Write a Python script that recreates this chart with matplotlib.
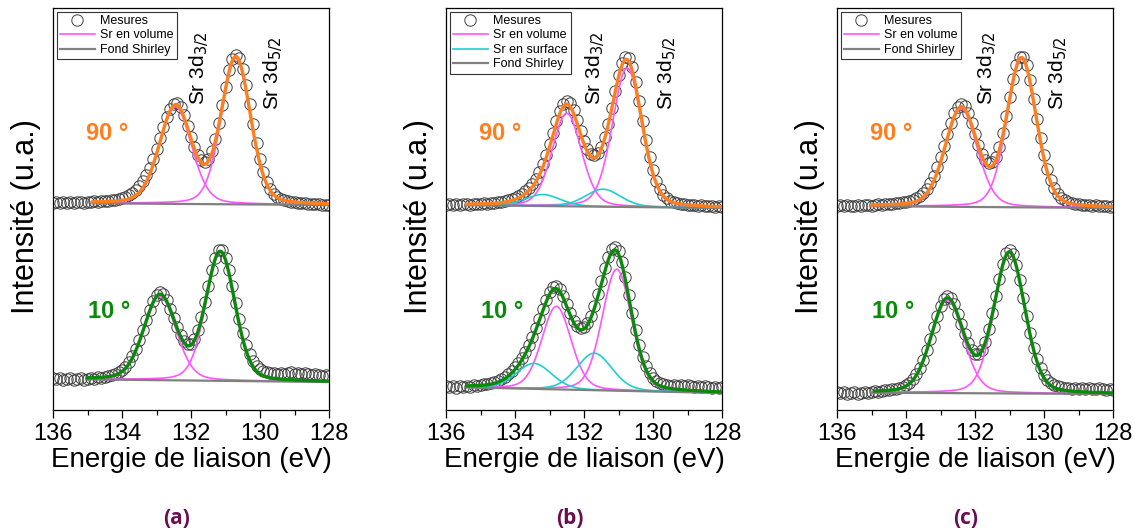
"""Sr 3d XPS spectra at 90 and 10 degrees for three samples, (a) to (c)."""

import matplotlib
matplotlib.use("Agg")
import matplotlib.pyplot as plt
import numpy as np
from matplotlib.lines import Line2D
from matplotlib.ticker import MultipleLocator

plt.rcParams["font.family"] = ["Liberation Sans", "DejaVu Sans"]

# binding energy channels of the measured spectra (eV), 136 -> 128 by 0.1 eV
ENERGY = np.round(np.linspace(136.0, 128.0, 81), 1)

# measured intensities (a.u.), already stacked as in the figure
A_90 = [207, 208, 207, 208, 207, 208, 207, 208, 208, 207,
        208, 208, 209, 208, 209, 209, 209, 210, 210, 211,
        212, 213, 215, 217, 220, 224, 229, 235, 242, 251,
        261, 272, 283, 293, 301, 306, 307, 303, 295, 284,
        273, 263, 255, 250, 248, 251, 259, 271, 287, 305,
        323, 340, 351, 355, 352, 341, 325, 306, 286, 267,
        251, 238, 228, 221, 216, 213, 211, 210, 209, 208,
        208, 207, 207, 207, 206, 206, 206, 206, 205, 205, 205]
A_10 = [32, 31, 32, 30, 31, 32, 30, 31, 32, 30,
        31, 32, 31, 33, 32, 33, 34, 35, 36, 38,
        40, 43, 48, 54, 61, 70, 80, 90, 100, 109,
        115, 118, 116, 110, 101, 92, 83, 75, 69, 66,
        66, 71, 80, 93, 108, 124, 140, 152, 160, 160,
        152, 140, 124, 107, 91, 77, 65, 56, 49, 44,
        41, 39, 38, 37, 37, 36, 37, 36, 37, 38,
        36, 37, 36, 37, 36, 35, 36, 35, 34, 35, 34]
B_90 = [205, 206, 205, 206, 205, 206, 206, 205, 206, 206,
        206, 207, 206, 207, 207, 208, 208, 209, 210, 211,
        212, 214, 216, 219, 222, 226, 231, 238, 246, 255,
        266, 277, 289, 299, 306, 309, 307, 300, 290, 279,
        269, 261, 256, 255, 257, 263, 273, 286, 302, 319,
        335, 347, 353, 352, 343, 328, 309, 289, 270, 253,
        240, 229, 221, 215, 212, 209, 208, 207, 206, 206,
        205, 205, 205, 204, 205, 204, 204, 204, 203, 204, 203]
B_10 = [24, 23, 24, 22, 24, 23, 24, 23, 25, 24,
        25, 26, 26, 27, 28, 29, 31, 33, 36, 39,
        43, 47, 52, 58, 65, 73, 82, 91, 101, 110,
        118, 123, 124, 121, 114, 106, 97, 89, 84, 82,
        83, 87, 94, 104, 116, 129, 142, 153, 161, 163,
        159, 148, 133, 115, 97, 80, 65, 53, 44, 37,
        32, 29, 27, 26, 25, 24, 25, 24, 25, 24,
        25, 24, 23, 24, 23, 24, 23, 22, 23, 22, 23]
C_90 = [204, 205, 204, 205, 204, 204, 205, 204, 205, 205,
        204, 205, 206, 205, 206, 206, 206, 207, 207, 208,
        208, 209, 210, 212, 214, 217, 221, 227, 234, 243,
        253, 264, 276, 287, 297, 303, 306, 304, 297, 287,
        276, 265, 256, 250, 247, 248, 253, 263, 277, 294,
        313, 331, 345, 353, 353, 345, 330, 311, 291, 272,
        255, 241, 230, 222, 216, 212, 210, 208, 207, 206,
        206, 205, 205, 205, 204, 205, 204, 204, 204, 203, 204]
C_10 = [18, 17, 18, 16, 17, 18, 16, 17, 18, 17,
        18, 19, 18, 19, 20, 20, 21, 21, 22, 23,
        25, 27, 31, 36, 42, 50, 60, 71, 83, 94,
        104, 111, 114, 112, 106, 96, 86, 76, 67, 60,
        56, 56, 60, 68, 81, 97, 114, 131, 146, 157,
        160, 156, 145, 130, 112, 94, 77, 62, 51, 42,
        35, 30, 27, 25, 24, 23, 22, 22, 21, 22,
        21, 22, 21, 22, 21, 21, 22, 21, 20, 21, 20]

# fitted components: (3d5/2, 3d3/2) position (eV), height (a.u.), FWHM (eV)
A_90_VOL = ([130.70, 132.45], [146, 97], [1.00, 1.10])
A_10_VOL = ([131.15, 132.90], [128, 84], [1.00, 1.10])
B_90_VOL = ([130.75, 132.50], [139, 93], [1.00, 1.00])
B_90_SURF = ([131.45, 133.20], [17.5, 11.5], [1.20, 1.20])
B_10_VOL = ([131.05, 132.80], [121.5, 83], [1.00, 1.00])
B_10_SURF = ([131.70, 133.45], [37, 25.5], [1.20, 1.20])
C_90_VOL = ([130.65, 132.40], [148, 98], [1.00, 1.10])
C_10_VOL = ([131.00, 132.80], [140, 93], [1.05, 1.10])

# Shirley background: (start of fit range, 128 eV) energies and levels
A_90_BG = ([134.85, 128.0], [206.7, 205.0])
A_10_BG = ([135.00, 128.0], [30.6, 28.0])
B_90_BG = ([135.40, 128.0], [204.8, 202.0])
B_10_BG = ([135.40, 128.0], [22.6, 17.0])
C_90_BG = ([135.00, 128.0], [203.8, 202.0])
C_10_BG = ([134.90, 128.0], [17.3, 16.0])

ANGLE_LABELS = ["90 °", "10 °"]
PANEL_LABELS = ["(a)", "(b)", "(c)"]

ORANGE = "#ff7f1e"
GREEN = "#0a8a0a"
PINK = "#ff55ff"
CYAN = "#1fcfcf"
GREY = "#808080"
PURPLE = "#6b0e4f"

PANELS = [
    [(A_90, A_90_VOL, None, A_90_BG), (A_10, A_10_VOL, None, A_10_BG)],
    [(B_90, B_90_VOL, B_90_SURF, B_90_BG), (B_10, B_10_VOL, B_10_SURF, B_10_BG)],
    [(C_90, C_90_VOL, None, C_90_BG), (C_10, C_10_VOL, None, C_10_BG)],
]

MARKER = dict(mfc="none", mec="0.25", ms=8.2, mew=0.7)


def gl_peak(energy, centre, height, fwhm, mix=0.2):
    """Gaussian-Lorentzian (pseudo-Voigt) peak."""
    x = (energy - centre) / fwhm
    return height * ((1 - mix) * np.exp(-4 * np.log(2) * x ** 2) + mix / (1 + 4 * x ** 2))


def draw_spectrum(axis, measured, volume, surface, background, colour):
    axis.plot(ENERGY, measured, "o", zorder=1, **MARKER)

    bg_e, bg_y = background
    energy = np.linspace(bg_e[0], bg_e[1], 400)
    base = np.interp(energy, bg_e[::-1], bg_y[::-1])
    total = base.copy()
    for parts, line_colour in ((volume, PINK), (surface, CYAN)):
        if parts is None:
            continue
        for centre, height, fwhm in zip(*parts):
            comp = gl_peak(energy, centre, height, fwhm)
            axis.plot(energy, base + comp, color=line_colour, lw=1.2, zorder=2)
            total += comp
    axis.plot(bg_e, bg_y, color=GREY, lw=1.6, zorder=3)
    axis.plot(energy, total, color=colour, lw=2.4, zorder=4)


fig = plt.figure(figsize=(11.35, 5.3), dpi=100)
lefts = [53, 446, 837]
label_x = [177, 570, 966]
peak_text = {0: (131.77, 129.62), 1: (131.68, 129.57), 2: (131.65, 129.59)}

for index, spectra in enumerate(PANELS):
    axis = fig.add_axes([lefts[index] / 1135, 120 / 530, 276 / 1135, 402 / 530])
    for (measured, volume, surface, background), colour in zip(spectra, [ORANGE, GREEN]):
        draw_spectrum(axis, measured, volume, surface, background, colour)

    axis.set_xlim(136, 128)
    axis.set_ylim(0, 402)
    axis.xaxis.set_major_locator(MultipleLocator(2))
    axis.xaxis.set_minor_locator(MultipleLocator(1))
    axis.tick_params(axis="x", which="major", direction="out", length=6, width=0.9,
                     labelsize=17, pad=3)
    axis.tick_params(axis="x", which="minor", direction="out", length=3.5, width=0.9)
    axis.set_yticks([])
    for spine in axis.spines.values():
        spine.set_linewidth(0.9)

    axis.set_xlabel("Energie de liaison (eV)", fontsize=20, labelpad=2)
    axis.set_ylabel("Intensité (u.a.)", fontsize=22)
    axis.yaxis.set_label_coords(-0.042, 0.48)

    axis.text(134.43, 276, ANGLE_LABELS[0], color=ORANGE, fontsize=17,
              fontweight="bold", ha="center", va="center")
    axis.text(134.37, 99, ANGLE_LABELS[1], color=GREEN, fontsize=17,
              fontweight="bold", ha="center", va="center")
    x32, x52 = peak_text[index]
    axis.text(x32, 305, r"Sr 3d$_{3/2}$", rotation=90, fontsize=15,
              ha="center", va="bottom")
    axis.text(x52, 300, r"Sr 3d$_{5/2}$", rotation=90, fontsize=15,
              ha="center", va="bottom")

    handles = [Line2D([], [], ls="none", marker="o", **MARKER),
               Line2D([], [], color=PINK, lw=1.2)]
    names = ["Mesures", "Sr en volume"]
    if spectra[0][2] is not None:
        handles.append(Line2D([], [], color=CYAN, lw=1.2))
        names.append("Sr en surface")
    handles.append(Line2D([], [], color=GREY, lw=1.6))
    names.append("Fond Shirley")
    legend = axis.legend(handles, names, loc="upper left", fontsize=9,
                         handlelength=2.8, handletextpad=0.4, labelspacing=0.2,
                         borderpad=0.25, borderaxespad=0.3, fancybox=False,
                         framealpha=1, edgecolor="0.2")
    legend.get_frame().set_linewidth(0.8)

    fig.text(label_x[index] / 1135, 1 - 518 / 530, PANEL_LABELS[index], color=PURPLE,
             fontsize=15, fontweight="bold", family=["Open Sans", "DejaVu Sans"],
             ha="center", va="center")

fig.savefig("out.png", dpi=100)
